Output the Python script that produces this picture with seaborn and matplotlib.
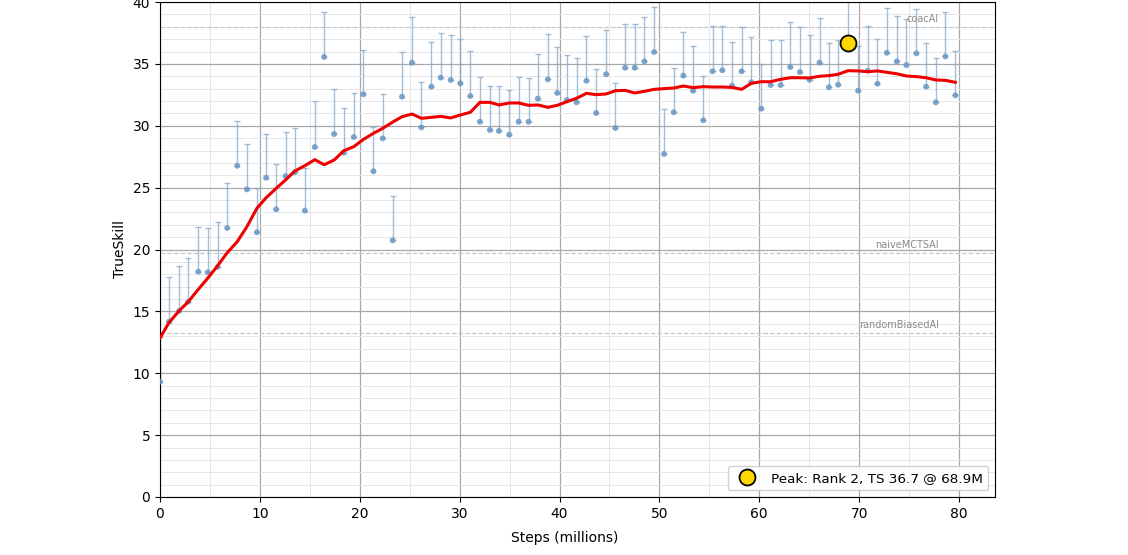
import numpy as np
import pandas as pd
import matplotlib
matplotlib.use("Agg")
import matplotlib.pyplot as plt
from matplotlib.ticker import MultipleLocator
import seaborn as sns

# Evaluation checkpoints (millions of steps)
steps = [0.0, 0.9, 1.9, 2.83, 3.83, 4.77, 5.77, 6.73, 7.73, 8.7, 9.7, 10.63, 11.63, 12.57,
         13.5, 14.5, 15.5, 16.43, 17.43, 18.4, 19.4, 20.37, 21.37, 22.3, 23.3, 24.23, 25.23, 26.17,
         27.17, 28.1, 29.1, 30.07, 31.07, 32.03, 33.03, 33.93, 34.97, 35.9, 36.9, 37.83, 38.83, 39.77,
         40.73, 41.7, 42.7, 43.67, 44.67, 45.6, 46.57, 47.53, 48.5, 49.47, 50.47, 51.43, 52.4, 53.37,
         54.4, 55.33, 56.3, 57.27, 58.23, 59.2, 60.2, 61.13, 62.13, 63.1, 64.07, 65.03, 66.03, 66.97, 67.9,
         68.9, 69.9, 70.87, 71.83, 72.77, 73.77, 74.73, 75.73, 76.7, 77.67, 78.63, 79.63]

# TrueSkill mu per checkpoint
trueskill = [9.32, 14.17, 15.03, 15.78, 18.21, 18.16, 18.59, 21.74, 26.77, 24.86, 21.39, 25.8, 23.25, 25.94,
             26.24, 23.14, 28.28, 35.56, 29.33, 27.82, 29.09, 32.54, 26.32, 28.98, 20.74, 32.35, 35.1, 29.87,
             33.16, 33.89, 33.7, 33.43, 32.4, 30.33, 29.66, 29.58, 29.28, 30.33, 30.33, 32.19, 33.75, 32.65,
             32.08, 31.89, 33.64, 31.03, 34.16, 29.82, 34.69, 34.69, 35.2, 35.96, 27.72, 31.09, 34.05, 32.83,
             30.44, 34.4, 34.48, 33.24, 34.4, 33.51, 31.38, 33.29, 33.29, 34.75, 34.34, 33.72, 35.1, 33.11, 33.32,
             36.7, 32.83, 34.45, 33.4, 35.9, 35.2, 34.9, 35.85, 33.16, 31.89, 35.6, 32.46]

# upper end of the uncertainty bar
upper = [12.9, 17.75, 18.69, 19.34, 21.82, 21.76, 22.2, 25.35, 30.36, 28.55, 24.94, 29.36, 26.88, 29.49,
         29.84, 26.6, 32.0, 39.17, 32.97, 31.43, 32.67, 36.09, 29.87, 32.6, 24.35, 35.98, 38.76, 33.5,
         36.74, 37.49, 37.33, 37.04, 36.04, 33.94, 33.24, 33.19, 32.89, 33.94, 33.88, 35.77, 37.39, 36.34,
         35.72, 35.45, 37.28, 34.59, 37.76, 33.43, 38.25, 38.25, 38.79, 39.57, 31.35, 34.67, 37.6, 36.44,
         33.99, 38.03, 38.09, 36.8, 38.01, 37.15, 34.96, 36.9, 36.9, 38.36, 37.98, 37.33, 38.73, 36.69, 36.9,
         40.4, 36.44, 38.09, 37.04, 39.49, 38.84, 38.63, 39.41, 36.69, 35.45, 39.22, 36.02]

# smoothed trend
smoothed = [12.85, 14.09, 15.03, 15.78, 16.78, 17.67, 18.69, 19.74, 20.63, 21.84, 23.33, 24.19, 24.94, 25.62,
            26.34, 26.77, 27.26, 26.85, 27.23, 27.98, 28.31, 28.9, 29.39, 29.79, 30.3, 30.73, 30.95, 30.6,
            30.68, 30.76, 30.63, 30.87, 31.09, 31.89, 31.89, 31.68, 31.84, 31.84, 31.65, 31.68, 31.49, 31.65,
            31.94, 32.22, 32.62, 32.51, 32.57, 32.83, 32.86, 32.65, 32.78, 32.94, 33.0, 33.05, 33.21, 33.08,
            33.16, 33.13, 33.13, 33.1, 32.94, 33.43, 33.56, 33.56, 33.75, 33.88, 33.88, 33.86, 34.0, 34.05, 34.16,
            34.45, 34.43, 34.37, 34.43, 34.32, 34.2, 34.02, 33.97, 33.88, 33.7, 33.67, 33.51]

# baseline bots
baseline_names = ["coacAI", "naiveMCTSAI", "randomBiasedAI"]
baseline_values = [37.95, 19.7, 13.25]

peak_step = 68.9
peak_ts = 36.7
peak_rank = 2

df = pd.DataFrame({"step": steps, "ts": trueskill, "upper": upper, "smooth": smoothed})

fig = plt.figure(figsize=(11.28, 5.55), dpi=100)
ax = fig.add_axes([160 / 1128, 58 / 555, 835 / 1128, 495 / 555])

ax.xaxis.set_major_locator(MultipleLocator(10))
ax.xaxis.set_minor_locator(MultipleLocator(5))
ax.yaxis.set_major_locator(MultipleLocator(5))
ax.yaxis.set_minor_locator(MultipleLocator(1))
ax.grid(True, which="major", color="#a8a8a8", linewidth=0.9, zorder=0)
ax.grid(True, which="minor", color="#e6e6e6", linewidth=0.7, zorder=0)
ax.set_axisbelow(True)

for name, val in zip(baseline_names, baseline_values):
    ax.axhline(val, color="#c8c8c8", linestyle="--", linewidth=0.9, zorder=1)
    ax.text(78, val + 0.25, name, ha="right", va="bottom", fontsize=7, color="#8a8a8a")

yerr = np.vstack([np.zeros(len(df)), df["upper"] - df["ts"]])
ax.errorbar(df["step"], df["ts"], yerr=yerr, fmt="none", ecolor="#86a8cb",
            elinewidth=1.0, capsize=2.5, capthick=1.0, alpha=0.75, zorder=2)
sns.scatterplot(data=df, x="step", y="ts", ax=ax, color="#6b98c4", s=18,
                edgecolor="none", alpha=0.85, zorder=3, legend=False)
sns.lineplot(data=df, x="step", y="smooth", ax=ax, color="#ee0000", linewidth=2.2, zorder=4)

ax.plot([peak_step], [peak_ts], "o", markersize=11.5, markerfacecolor="#ffd700",
        markeredgecolor="black", markeredgewidth=1.3, zorder=5,
        label=f"Peak: Rank {peak_rank}, TS {peak_ts} @ {peak_step}M")

ax.set_xlim(0, 83.6)
ax.set_ylim(0, 40)
ax.set_xlabel("Steps (millions)", fontsize=10)
ax.set_ylabel("TrueSkill", fontsize=10)
ax.xaxis.set_label_coords((565 - 160) / 835, -0.068)
ax.tick_params(which="major", labelsize=10)
ax.tick_params(which="minor", length=0)
ax.legend(loc="lower right", fontsize=9.7, framealpha=0.9)

fig.savefig("out.png", dpi=100)
